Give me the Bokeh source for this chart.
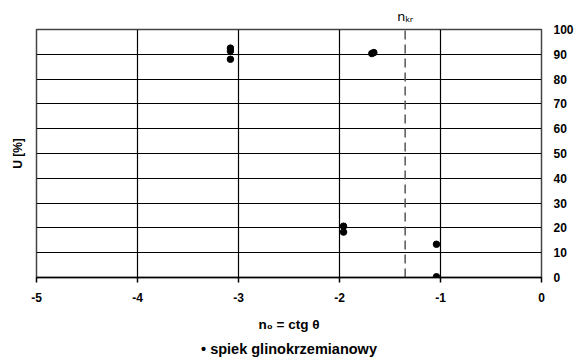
from bokeh.plotting import figure
from bokeh.models import (Range1d, LinearAxis, FixedTicker, PrintfTickFormatter)
from bokeh.embed import file_html
from bokeh.resources import INLINE

# ---- data ----
n0_values = [-3.08, -3.08, -3.08, -1.68, -1.66, -1.96, -1.96, -1.04, -1.04]
u_values = [92.5, 91.3, 88.0, 90.3, 90.7, 20.7, 18.3, 13.4, 0.3]
n_kr = -1.35
n_kr_label = "n\u2096\u1d63"
x_ticks = [-5, -4, -3, -2, -1, 0]
y_ticks = [0, 10, 20, 30, 40, 50, 60, 70, 80, 90, 100]
series_name = "spiek glinokrzemianowy"
x_title = "n\u2080 = ctg \u03b8"
y_title = "U [%]"

FONT = "Liberation Sans"

p = figure(width=576, height=359, output_backend="svg", toolbar_location=None,
           x_range=Range1d(-5, 0), y_range=Range1d(0, 100),
           y_axis_location="right",
           min_border_left=36, min_border_top=29, min_border_right=35,
           min_border_bottom=82)
p.background_fill_color = "white"
p.border_fill_color = "white"
p.outline_line_color = "#444444"
p.outline_line_width = 1.5

# grid
p.xgrid.ticker = FixedTicker(ticks=x_ticks)
p.ygrid.ticker = FixedTicker(ticks=y_ticks)
for g in (p.xgrid, p.ygrid):
    g.grid_line_color = "black"
    g.grid_line_width = 1.2
    g.grid_line_alpha = 1.0

# x axis
xa = p.xaxis[0]
xa.ticker = FixedTicker(ticks=x_ticks)
xa.formatter = PrintfTickFormatter(format="%d")
xa.axis_line_color = "black"
xa.axis_line_width = 1.5
xa.major_tick_line_color = "black"
xa.major_tick_line_width = 1.5
xa.major_tick_out = 5
xa.major_tick_in = 0
xa.minor_tick_line_color = None
xa.major_label_standoff = 10
xa.major_label_text_font = FONT
xa.major_label_text_font_style = "bold"
xa.major_label_text_font_size = "12px"
xa.major_label_text_color = "black"
xa.axis_label = x_title
xa.axis_label_standoff = 12
xa.axis_label_text_font = FONT
xa.axis_label_text_font_style = "bold"
xa.axis_label_text_font_size = "13.5px"
xa.axis_label_text_color = "black"

# legend line below the axis title (text-only axis)
leg_axis = LinearAxis(ticker=FixedTicker(ticks=[]), axis_label="\u2022 " + series_name,
                      axis_line_color=None, major_tick_line_color=None,
                      minor_tick_line_color=None, axis_label_standoff=6,
                      axis_label_text_font=FONT, axis_label_text_font_style="bold",
                      axis_label_text_font_size="14.5px", axis_label_text_color="black")
p.add_layout(leg_axis, "below")

# y axis (right)
ya = p.yaxis[0]
ya.ticker = FixedTicker(ticks=y_ticks)
ya.axis_line_color = None
ya.major_tick_line_color = None
ya.minor_tick_line_color = None
ya.major_tick_out = 0
ya.major_tick_in = 0
ya.major_label_standoff = 12
ya.major_label_text_font = FONT
ya.major_label_text_font_style = "bold"
ya.major_label_text_font_size = "12px"
ya.major_label_text_color = "black"

# left axis: title only
la = LinearAxis(ticker=FixedTicker(ticks=[]), axis_label=y_title,
                axis_line_color=None, major_tick_line_color=None,
                minor_tick_line_color=None, axis_label_standoff=12,
                axis_label_text_font=FONT, axis_label_text_font_style="bold",
                axis_label_text_font_size="12px", axis_label_text_color="black")
p.add_layout(la, "left")

# top axis: n_kr marker label
ta = LinearAxis(ticker=FixedTicker(ticks=[n_kr]),
                major_label_overrides={n_kr: n_kr_label},
                axis_line_color=None, major_tick_line_color=None,
                minor_tick_line_color=None, major_tick_out=0, major_tick_in=0,
                major_label_standoff=5,
                major_label_text_font="Noto Sans", major_label_text_font_size="13px",
                major_label_text_color="black")
p.add_layout(ta, "above")

# critical line
p.line(x=[n_kr, n_kr], y=[y_ticks[0], y_ticks[-1]], line_color="#555555",
       line_width=1.5, line_dash="9 5")

# points
r = p.scatter(x=n0_values, y=u_values, size=6.5, marker="circle",
              fill_color="black", line_color="black")

open("out.html", "w").write(file_html(p, INLINE))
